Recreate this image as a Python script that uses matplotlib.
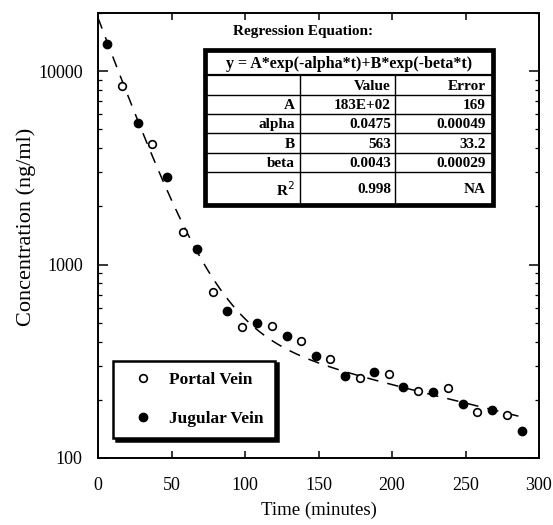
import numpy as np
import matplotlib
matplotlib.use('Agg')
import matplotlib.pyplot as plt
from matplotlib.ticker import LogLocator, NullFormatter, FuncFormatter, MultipleLocator
from matplotlib.patches import Rectangle
from matplotlib.lines import Line2D

plt.rcParams['font.family'] = ['Liberation Serif', 'DejaVu Serif']

# data
portal_t = [16.5, 36.5, 57.6, 78.0, 97.8, 118.2, 138.1, 157.8, 178.2, 198.2, 217.9, 238.3, 258.0, 278.0]
portal_c = [8400, 4190, 1477, 720, 475, 483, 405, 324, 259, 272, 221, 231, 173, 166]
jugular_t = [6.3, 27.0, 47.1, 67.6, 87.6, 108.0, 128.4, 148.1, 168.0, 188.0, 207.7, 227.7, 248.1, 268.2, 288.2]
jugular_c = [13800, 5380, 2845, 1206, 578, 499, 428, 337, 266, 277, 234, 220, 190, 178, 138]

# regression table
fit_A, fit_alpha, fit_B, fit_beta = 183e2, 0.0475, 563, 0.0043
equation = 'y = A*exp(-alpha*t)+B*exp(-beta*t)'
row_names = ['', 'A', 'alpha', 'B', 'beta', r'R$^2$']
col_value = ['Value', '183E+02', '0.0475', '563', '0.0043', '0.998']
col_error = ['Error', '169', '0.00049', '33.2', '0.00029', 'NA']

W, H = 553, 525


def px(x, y):
    # pixel (from top-left) -> figure fraction
    return x / W, 1 - y / H


fig = plt.figure(figsize=(W / 100, H / 100), dpi=100)
ax = fig.add_axes([98 / W, 1 - 458 / H, 441 / W, 445 / H])

tt = np.linspace(0, 292, 300)
ax.plot(tt, fit_A * np.exp(-fit_alpha * tt) + fit_B * np.exp(-fit_beta * tt),
        color='black', lw=1.1, dashes=(7.5, 6))
ax.plot(portal_t, portal_c, 'o', ms=5.5, mfc='white', mec='black', mew=1.2, ls='none',
        label='Portal Vein')
ax.plot(jugular_t, jugular_c, 'o', ms=6, mfc='black', mec='black', ls='none',
        label='Jugular Vein')

ax.set_yscale('log')
ax.set_xlim(0, 300)
ax.set_ylim(100, 20000)
ax.xaxis.set_major_locator(MultipleLocator(50))
ax.yaxis.set_major_locator(LogLocator(base=10))
ax.yaxis.set_minor_locator(LogLocator(base=10, subs=np.arange(2, 10)))
ax.yaxis.set_major_formatter(FuncFormatter(lambda v, p: '%d' % v))
ax.yaxis.set_minor_formatter(NullFormatter())
ax.tick_params(which='both', direction='in', top=True, right=True, labelsize=13)
ax.tick_params(axis='x', pad=14)
ax.tick_params(axis='y', pad=11)
ax.tick_params(which='major', length=5, width=1.1)
ax.tick_params(which='minor', length=3, width=0.9)
ax.tick_params(axis='y', which='major', length=7)
for s in ax.spines.values():
    s.set_linewidth(1.4)

ax.set_xlabel('Time (minutes)', fontsize=13.5, labelpad=5)
ax.set_ylabel('Concentration (ng/ml)', fontsize=16, labelpad=9)
ax.yaxis.set_label_coords(-0.14, 0.52)

leg = ax.legend(loc='lower left', bbox_to_anchor=(0.034, 0.045), borderaxespad=0,
                prop={'weight': 'bold', 'size': 12.5}, labelspacing=1.3, borderpad=0.65,
                handletextpad=0.4, handlelength=2.2, fancybox=False,
                shadow={'color': 'black', 'alpha': 1})
leg.get_frame().set_edgecolor('black')
leg.get_frame().set_linewidth(1.8)

# regression table drawn on the figure
fig.text(*px(233, 31), 'Regression Equation:', fontsize=11, weight='bold', va='center', ha='left')
xs = [205, 300, 395, 493]
ys = [50, 75, 95, 114, 133, 153, 172, 205]
for y in ys[1:-1]:
    fig.add_artist(Line2D([xs[0] / W, xs[-1] / W], [1 - y / H, 1 - y / H],
                          color='black', lw=1.6 if y == ys[1] else 1.0))
for x in xs[1:-1]:
    fig.add_artist(Line2D([x / W, x / W], [1 - ys[1] / H, 1 - ys[-1] / H],
                          color='black', lw=1.0))
fig.add_artist(Rectangle(px(xs[0], ys[-1]), (xs[-1] - xs[0]) / W, (ys[-1] - ys[0]) / H,
                         transform=fig.transFigure, fill=False, ec='black', lw=3.4))
fig.text(*px((xs[0] + xs[-1]) / 2, (ys[0] + ys[1]) / 2 + 1), equation, fontsize=11.5,
         weight='bold', ha='center', va='center')
for i in range(6):
    yc = (ys[i + 1] + ys[i + 2]) / 2 + 1
    fig.text(*px(xs[1] - 5, yc), row_names[i], fontsize=11, weight='bold', ha='right', va='center')
    fig.text(*px(xs[2] - 4, yc), col_value[i], fontsize=11, weight='bold', ha='right', va='center')
    fig.text(*px(xs[3] - 7, yc), col_error[i], fontsize=11, weight='bold', ha='right', va='center')

fig.savefig('out.png', dpi=100)
